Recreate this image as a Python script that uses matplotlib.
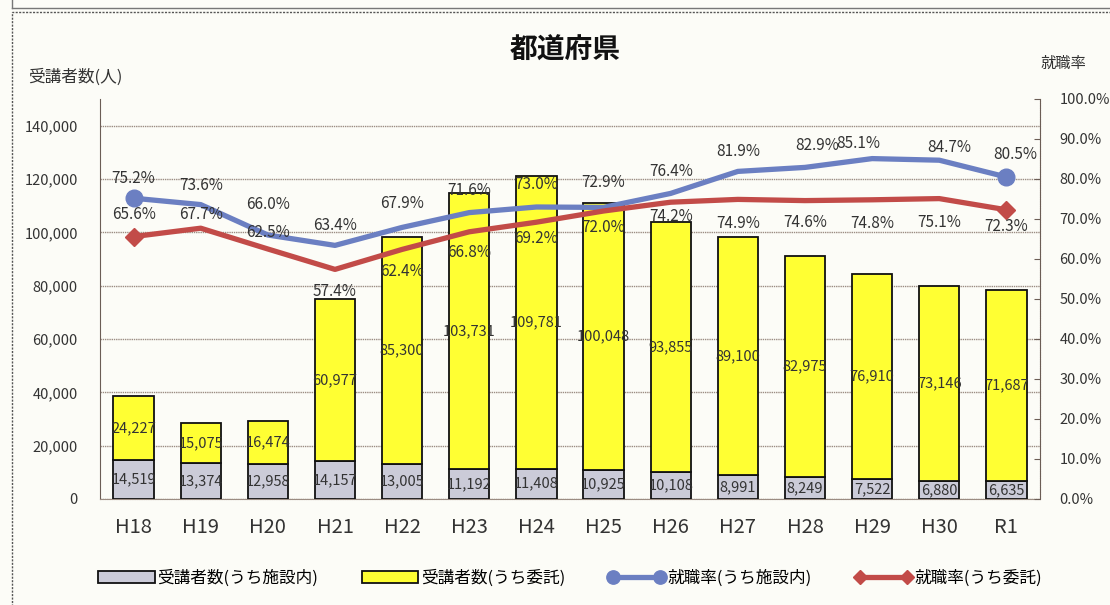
import matplotlib
matplotlib.use("Agg")
import matplotlib.pyplot as plt
from matplotlib.patches import Rectangle
from matplotlib.lines import Line2D
import numpy as np

plt.rcParams["font.family"] = ["Noto Sans CJK JP", "DejaVu Sans"]

# data
years = ["H18", "H19", "H20", "H21", "H22", "H23", "H24", "H25", "H26",
         "H27", "H28", "H29", "H30", "R1"]
in_facility = [14519, 13374, 12958, 14157, 13005, 11192, 11408, 10925,
               10108, 8991, 8249, 7522, 6880, 6635]
outsourced = [24227, 15075, 16474, 60977, 85300, 103731, 109781, 100048,
              93855, 89100, 82975, 76910, 73146, 71687]
rate_facility = [75.2, 73.6, 66.0, 63.4, 67.9, 71.6, 73.0, 72.9, 76.4,
                 81.9, 82.9, 85.1, 84.7, 80.5]
rate_outsourced = [65.6, 67.7, 62.5, 57.4, 62.4, 66.8, 69.2, 72.0, 74.2,
                   74.9, 74.6, 74.8, 75.1, 72.3]
left_ticks = [0, 20000, 40000, 60000, 80000, 100000, 120000, 140000]
right_ticks = [0, 10, 20, 30, 40, 50, 60, 70, 80, 90, 100]

# label placement (points, +up / -down)
red_label_dy = [16, 10, 12, -16, -16, -15, -12, -12, -10, -17, -16, -17, -17, -12]
blue_label_dy = [14, 14, 22, 14, 17, 16, 16, 18, 16, 14, 16, 11, 9, 16]
blue_label_dx = [0, 0, 0, 0, 0, 0, 0, 0, 0, 0, 9, -10, 7, 6]

GREY = "#cbcbd8"
YELLOW = "#ffff33"
BLUE = "#6b7fc2"
RED = "#c24b48"
TXT = "#333333"
GRID = "#9b8c82"

fig = plt.figure(figsize=(11.1, 6.05), dpi=100)
fig.patch.set_facecolor("#fcfcf7")

# outer panel frame
fig.add_artist(Rectangle((12 / 1110, -0.05), 1.2, 1 - 12 / 605 + 0.05,
                         transform=fig.transFigure, fill=False,
                         ec="#555555", lw=1.0, ls=(0, (1.5, 1))))
fig.add_artist(Line2D([12 / 1110, 1.0], [1 - 8 / 605] * 2,
                      transform=fig.transFigure, color="#777777", lw=1.0))
fig.add_artist(Line2D([12 / 1110, 12 / 1110], [1 - 8 / 605, 1.0],
                      transform=fig.transFigure, color="#777777", lw=1.0))

ax = fig.add_axes([100 / 1110, 1 - 499 / 605, 940 / 1110, 400 / 605])
ax.set_facecolor("none")
x = np.arange(len(years))
w = 0.6

ax.bar(x, in_facility, w, color=GREY, edgecolor="#111111", linewidth=1.3,
       label="受講者数(うち施設内)", zorder=3)
ax.bar(x, outsourced, w, bottom=in_facility, color=YELLOW, edgecolor="#111111",
       linewidth=1.3, label="受講者数(うち委託)", zorder=3)

for i in range(len(years)):
    ax.text(x[i], in_facility[i] / 2, f"{in_facility[i]:,}", ha="center",
            va="center", fontsize=10.5, color=TXT, zorder=4)
    ax.text(x[i], in_facility[i] + outsourced[i] / 2, f"{outsourced[i]:,}",
            ha="center", va="center", fontsize=10.5, color=TXT, zorder=4)

ax.set_xlim(-0.5, len(years) - 0.5)
ax.set_ylim(0, 150000)
ax.set_yticks(left_ticks)
ax.set_yticklabels([f"{v:,}" for v in left_ticks])
ax.set_xticks(x)
ax.set_xticklabels(years)
ax.tick_params(axis="y", length=0, pad=16, labelsize=10.5, labelcolor=TXT)
ax.tick_params(axis="x", length=0, pad=13, labelsize=14.5, labelcolor=TXT)
ax.grid(axis="y", color=GRID, linestyle=(0, (1, 0.6)), linewidth=1.0, zorder=0)
ax.set_axisbelow(True)
for s in ("top", "right"):
    ax.spines[s].set_visible(False)
ax.spines["left"].set_color("#6b5d55")
ax.spines["bottom"].set_color(GRID)
ax.spines["bottom"].set_linestyle((0, (1, 0.6)))

ax2 = ax.twinx()
ax2.plot(x, rate_facility, "-o", color=BLUE, lw=3.8, markersize=12,
         markevery=[0, len(x) - 1], solid_joinstyle="round",
         label="就職率(うち施設内)", zorder=5)
ax2.plot(x, rate_outsourced, "-D", color=RED, lw=3.8, markersize=9,
         markevery=[0, len(x) - 1], solid_joinstyle="round",
         label="就職率(うち委託)", zorder=5)
for i in range(len(years)):
    ax2.annotate(f"{rate_facility[i]:.1f}%", (x[i], rate_facility[i]),
                 xytext=(blue_label_dx[i], blue_label_dy[i]),
                 textcoords="offset points", ha="center", va="center",
                 fontsize=11, color=TXT, zorder=6)
    ax2.annotate(f"{rate_outsourced[i]:.1f}%", (x[i], rate_outsourced[i]),
                 xytext=(0, red_label_dy[i]), textcoords="offset points",
                 ha="center", va="center", fontsize=11, color=TXT, zorder=6)
ax2.set_ylim(0, 100)
ax2.set_yticks(right_ticks)
ax2.set_yticklabels([f"{v:.1f}%" for v in right_ticks])
ax2.tick_params(axis="y", direction="in", length=4, color="#6b5d55",
                pad=14, labelsize=10.5, labelcolor=TXT)
for s in ("top", "left", "bottom"):
    ax2.spines[s].set_visible(False)
ax2.spines["right"].set_color("#6b5d55")
ax2.spines["right"].set_linestyle((0, (1, 0.6)))

fig.text(565 / 1110, 1 - 51 / 605, "都道府県", ha="center", va="center",
         fontsize=20, fontweight="bold", color="#111111")
fig.text(28 / 1110, 1 - 77 / 605, "受講者数(人)", ha="left", va="center",
         fontsize=12, color=TXT)
fig.text(1040 / 1110, 1 - 63 / 605, "就職率", ha="left", va="center",
         fontsize=11, color=TXT)

h1, l1 = ax.get_legend_handles_labels()
h2, l2 = ax2.get_legend_handles_labels()
fig.legend(h1 + h2, l1 + l2, loc="center", bbox_to_anchor=(570 / 1110, 1 - 578 / 605),
           ncol=4, frameon=False, fontsize=12, handlelength=3.4,
           handletextpad=0.15, columnspacing=2.6, numpoints=2, markerscale=0.8)

fig.savefig("out.png", dpi=100, facecolor=fig.get_facecolor())
